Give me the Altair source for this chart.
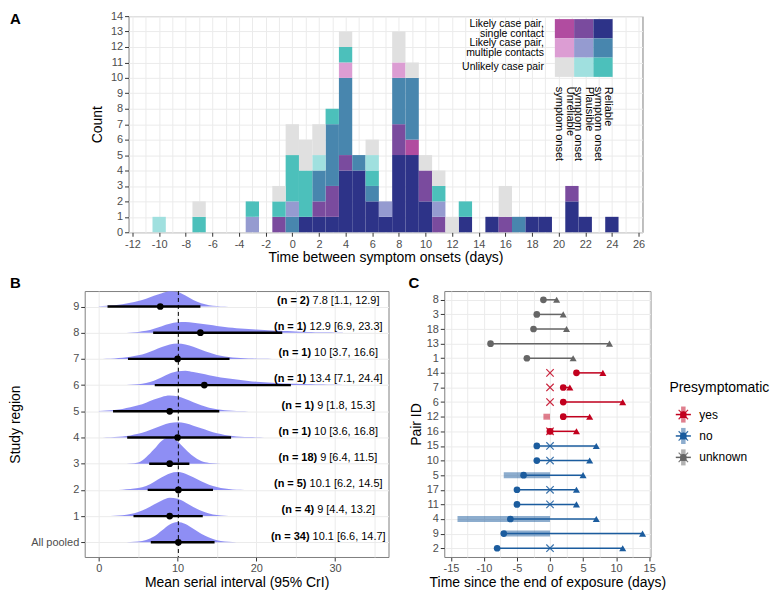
import altair as alt
import pandas as pd

FONT = "Liberation Sans"
LABEL_GREY = "#4d4d4d"
GRID = "#ebebeb"

# ---------------- Panel A: serial interval histogram ----------------
day_values = list(range(-10, 25))
single_reliable = {1: 1, 2: 1, 3: 1, 4: 4, 5: 4, 6: 2, 7: 1, 8: 5, 9: 5, 10: 2, 13: 1, 15: 1,
                   18: 1, 19: 1, 21: 2, 22: 1, 24: 1}
single_plausible = {-1: 1, 2: 1, 3: 2, 4: 1, 8: 2, 10: 2, 11: 1, 16: 1, 21: 1}
single_unreliable = {9: 1}
multi_reliable = {0: 1, 2: 2, 3: 4, 4: 5, 5: 1, 6: 1, 8: 3, 9: 4, 17: 1}
multi_plausible = {-3: 1, 0: 1, 7: 1, 11: 1}
multi_unreliable = {4: 1, 8: 1}
unlikely_reliable = {-7: 1, -3: 1, -1: 1, 0: 3, 1: 3, 3: 1, 4: 1, 6: 1, 11: 1, 13: 1}
unlikely_plausible = {-10: 1, 2: 1, 6: 1}
unlikely_unreliable = {-7: 1, -1: 1, 0: 2, 1: 2, 2: 2, 4: 1, 6: 1, 8: 2, 9: 1, 10: 1, 11: 1,
                       12: 1, 16: 2}

cat_names = ["single_reliable", "single_plausible", "single_unreliable",
             "multi_reliable", "multi_plausible", "multi_unreliable",
             "unlikely_reliable", "unlikely_plausible", "unlikely_unreliable"]
cat_counts = [single_reliable, single_plausible, single_unreliable,
              multi_reliable, multi_plausible, multi_unreliable,
              unlikely_reliable, unlikely_plausible, unlikely_unreliable]
cat_colors = ["#2d3388", "#7a4b9e", "#b14ca0",
              "#4886ae", "#959bd0", "#dc9dd3",
              "#4cc0bb", "#a0e0df", "#e0e0e0"]

leg_rows = ["Likely case pair,\nsingle contact", "Likely case pair,\nmultiple contacts",
            "Unlikely case pair"]
leg_cols = ["Unreliable\nsymptom onset", "Plausible\nsymptom onset", "Reliable\nsymptom onset"]
leg_prefix = ["single", "multi", "unlikely"]
leg_suffix = ["unreliable", "plausible", "reliable"]

rowsA = []
for order, (name, d) in enumerate(zip(cat_names, cat_counts)):
    for day in day_values:
        c = d.get(day, 0)
        if c:
            rowsA.append({"day": day, "cat": name, "order": order, "count": c})
dfA = pd.DataFrame(rowsA)

leg_records = []
for r, rl in enumerate(leg_rows):
    for c, cl in enumerate(leg_cols):
        leg_records.append({"row": rl, "col": cl, "cat": f"{leg_prefix[r]}_{leg_suffix[c]}"})
dfLeg = pd.DataFrame(leg_records)

A_W, A_H = 516, 217
A_XDOM = [-12.3, 26.3]

colorA = alt.Color("cat:N", scale=alt.Scale(domain=cat_names, range=cat_colors), legend=None)

bars = alt.Chart(dfA).transform_stack(
    stack="count", groupby=["day"], as_=["y0", "y1"],
    sort=[alt.SortField("order", order="ascending")]
).transform_calculate(
    x0="datum.day - 0.5", x1="datum.day + 0.5"
).mark_rect().encode(
    x=alt.X("x0:Q", scale=alt.Scale(domain=A_XDOM, nice=False, zero=False),
            axis=alt.Axis(values=list(range(-12, 27)),
                          labelExpr="datum.value % 2 === 0 ? '' + datum.value : ''",
                          tickOpacity={"condition": {"test": "datum.value % 2 !== 0", "value": 0}, "value": 1},
                          title="Time between symptom onsets (days)", titlePadding=1)),
    x2="x1:Q",
    y=alt.Y("y0:Q", scale=alt.Scale(domain=[0, 14], nice=False),
            axis=alt.Axis(values=list(range(0, 15)), title="Count", titlePadding=6)),
    y2="y1:Q",
    color=colorA,
)

legX = alt.X("col:N", scale=alt.Scale(type="band", domain=leg_cols, range=[428, 486],
                                      paddingInner=0, paddingOuter=0), axis=None)
legY = alt.Y("row:N", scale=alt.Scale(type="band", domain=leg_rows, range=[3, 61],
                                      paddingInner=0, paddingOuter=0), axis=None)

leg_tiles = alt.Chart(dfLeg).mark_rect().encode(x=legX, y=legY, color=colorA)
dfRowText = pd.DataFrame({"row": leg_rows})
leg_rowtext2 = alt.Chart(dfRowText).transform_filter(
    "indexof(datum.row, '\\n') >= 0"
).mark_text(
    align="right", baseline="middle", lineBreak="\n", fontSize=10.5, lineHeight=10,
    font=FONT, color="black", dy=-5
).encode(x=alt.value(417), y=legY, text="row:N")
leg_rowtext1 = alt.Chart(dfRowText).transform_filter(
    "indexof(datum.row, '\\n') < 0"
).mark_text(
    align="right", baseline="middle", fontSize=10.5, font=FONT, color="black"
).encode(x=alt.value(417), y=legY, text="row:N")
leg_coltext = alt.Chart(pd.DataFrame({"col": leg_cols})).mark_text(
    align="left", baseline="middle", lineBreak="\n", fontSize=11, lineHeight=11,
    angle=90, font=FONT, color="black", dy=-5.5
).encode(x=legX, y=alt.value(71), text="col:N")

chartA = alt.layer(
    bars, alt.layer(leg_tiles, leg_rowtext2, leg_rowtext1, leg_coltext)
).resolve_scale(x="independent", y="independent").properties(width=A_W, height=A_H)

# small blank cell left of panel A that carries the "A" tag and sets A's horizontal offset
spacerA = alt.Chart(pd.DataFrame({"t": ["A"]})).mark_text(
    align="left", baseline="middle", fontSize=15, fontWeight="bold", font=FONT, color="black"
).encode(x=alt.value(-75), y=alt.value(3), text="t:N").properties(
    width=1, height=1, view=alt.ViewBackground(stroke="transparent"))

# ---------------- Panel B: mean serial interval by region ----------------
region_labels = ["All pooled", "1", "2", "3", "4", "5", "6", "7", "8", "9"]
region_n = [34, 4, 5, 18, 1, 1, 1, 1, 1, 2]
region_mean = [10.1, 9, 10.1, 9, 10, 9, 13.4, 10, 12.9, 7.8]
region_lo = [6.6, 4.4, 6.2, 6.4, 3.6, 1.8, 7.1, 3.7, 6.9, 1.1]
region_hi = [14.7, 13.2, 14.5, 11.5, 16.8, 15.3, 24.4, 16.6, 23.3, 12.9]

dens_x = list(range(0, 32))
dens_pooled = [0, 0, 0, 0, 0.01, 0.03, 0.09, 0.22, 0.45, 0.68, 0.78, 0.7, 0.52, 0.33, 0.18, 0.08, 0.03, 0.01]
dens_r1 = [0, 0, 0.01, 0.03, 0.08, 0.16, 0.28, 0.44, 0.6, 0.7, 0.66, 0.52, 0.35, 0.2, 0.1, 0.04, 0.015, 0.005]
dens_r2 = [0, 0, 0, 0.01, 0.03, 0.07, 0.15, 0.3, 0.48, 0.63, 0.68, 0.62, 0.48, 0.33, 0.2, 0.11, 0.05, 0.02, 0.01]
dens_r3 = [0, 0, 0, 0, 0.01, 0.05, 0.25, 0.55, 0.88, 1.0, 0.85, 0.55, 0.28, 0.1, 0.03, 0.01]
dens_r4 = [0, 0.01, 0.02, 0.04, 0.08, 0.14, 0.23, 0.34, 0.46, 0.55, 0.58, 0.54, 0.45, 0.35, 0.25, 0.16, 0.1,
           0.06, 0.03, 0.015, 0.01, 0.005]
dens_r5 = [0.01, 0.03, 0.05, 0.09, 0.15, 0.23, 0.33, 0.45, 0.55, 0.6, 0.57, 0.47, 0.35, 0.23, 0.14, 0.08,
           0.04, 0.02, 0.01, 0.005]
dens_r6 = [0, 0, 0, 0, 0.01, 0.03, 0.08, 0.17, 0.3, 0.44, 0.53, 0.55, 0.5, 0.44, 0.38, 0.32, 0.27, 0.23,
           0.19, 0.16, 0.13, 0.11, 0.09, 0.07, 0.06, 0.05, 0.04, 0.03, 0.02, 0.015, 0.01, 0.005]
dens_r7 = [0, 0.01, 0.02, 0.04, 0.08, 0.14, 0.22, 0.33, 0.45, 0.55, 0.59, 0.55, 0.46, 0.35, 0.24, 0.15,
           0.09, 0.05, 0.03, 0.015, 0.01, 0.005]
dens_r8 = [0, 0, 0, 0, 0.01, 0.03, 0.07, 0.15, 0.25, 0.34, 0.4, 0.41, 0.38, 0.34, 0.3, 0.26, 0.22, 0.19,
           0.16, 0.14, 0.12, 0.1, 0.08, 0.07, 0.06, 0.05, 0.04, 0.03, 0.02, 0.015, 0.01, 0.005]
dens_r9 = [0.01, 0.03, 0.05, 0.09, 0.14, 0.21, 0.3, 0.41, 0.51, 0.58, 0.55, 0.42, 0.25, 0.12, 0.05, 0.02, 0.01]
densities = [dens_pooled, dens_r1, dens_r2, dens_r3, dens_r4, dens_r5, dens_r6, dens_r7, dens_r8, dens_r9]

B_W, B_H = 305, 267
B_XDOM = [-1.8, 36.8]
B_YDOM = [-0.56, 9.59]
TEXT_CENTER = 29.15
TEXT_SIZE = 11

dens_rows = []
for r, heights in enumerate(densities):
    for i, x in enumerate(dens_x):
        h = heights[i] if i < len(heights) else 0
        dens_rows.append({"row": r, "x": x, "y0": r, "y1": r + h})
dfDens = pd.DataFrame(dens_rows)

NORMAL_W = {" ": 278, ".": 278, ",": 278, "[": 278, "]": 278, "(": 333, ")": 333, "n": 556, "=": 584}
BOLD_W = {" ": 278, ".": 278, "(": 333, ")": 333, "n": 611, "=": 584}


def text_width(s, table):
    return sum(table.get(ch, 556) for ch in s) * TEXT_SIZE / 1000.0


def fmt(v):
    return f"{v:g}"


ppu = B_W / (B_XDOM[1] - B_XDOM[0])
sum_rows = []
for r in range(len(region_labels)):
    bold = f"(n = {region_n[r]})"
    normal = f"{fmt(region_mean[r])} [{fmt(region_lo[r])}, {fmt(region_hi[r])}]"
    wb = text_width(bold, BOLD_W)
    wn = text_width(normal, NORMAL_W)
    sp = 278 * TEXT_SIZE / 1000.0
    total = wb + sp + wn
    left_px = -total / 2
    sum_rows.append({
        "row": r, "mean": region_mean[r], "lo": region_lo[r], "hi": region_hi[r],
        "bold": bold, "normal": normal,
        "tx_bold": TEXT_CENTER + (left_px + wb) / ppu,
        "tx_normal": TEXT_CENTER + (left_px + wb + sp) / ppu,
        "ty": r + 0.22,
    })
dfB = pd.DataFrame(sum_rows)

axisBx = alt.Axis(values=[0, 5, 10, 15, 20, 25, 30, 35],
                  labelExpr="datum.value % 10 === 0 ? '' + datum.value : ''",
                  tickOpacity={"condition": {"test": "datum.value % 10 !== 0", "value": 0}, "value": 1},
                  title="Mean serial interval (95% CrI)", titlePadding=2)
axisBy = alt.Axis(values=list(range(0, 10)),
                  labelExpr="datum.value === 0 ? 'All pooled' : '' + datum.value",
                  title="Study region", titlePadding=8)
scaleBx = alt.Scale(domain=B_XDOM, nice=False, zero=False)
scaleBy = alt.Scale(domain=B_YDOM, nice=False, zero=False)


def bx(field):
    return alt.X(field, type="quantitative", scale=scaleBx, axis=axisBx)


def by(field):
    return alt.Y(field, type="quantitative", scale=scaleBy, axis=axisBy)


dens_area = alt.Chart(dfDens).mark_area(color="#8888f3", interpolate="monotone", opacity=0.95).encode(
    x=bx("x"), y=by("y0"), y2="y1:Q", detail="row:N")
pooled_line = alt.Chart(pd.DataFrame({"m": [region_mean[0]]})).mark_rule(
    color="black", strokeDash=[4, 3], strokeWidth=1).encode(x=bx("m"))
ci_rule = alt.Chart(dfB).mark_rule(color="black", strokeWidth=2.4).encode(
    x=bx("lo"), x2="hi:Q", y=by("row"))
mean_pt = alt.Chart(dfB).mark_point(shape="circle", filled=True, color="black", size=45, opacity=1).encode(
    x=bx("mean"), y=by("row"))
txt_bold = alt.Chart(dfB).mark_text(align="right", baseline="middle", fontSize=TEXT_SIZE,
                                    fontWeight="bold", font=FONT, color="black").encode(
    x=bx("tx_bold"), y=by("ty"), text="bold:N")
txt_norm = alt.Chart(dfB).mark_text(align="left", baseline="middle", fontSize=TEXT_SIZE,
                                    font=FONT, color="black").encode(
    x=bx("tx_normal"), y=by("ty"), text="normal:N")
labelB = alt.Chart(pd.DataFrame({"t": ["B"]})).mark_text(
    align="left", baseline="middle", fontSize=15, fontWeight="bold", font=FONT, color="black"
).encode(x=alt.value(-75), y=alt.value(-8), text="t:N")

chartB = alt.layer(dens_area, pooled_line, ci_rule, mean_pt, txt_bold, txt_norm, labelB).properties(
    width=B_W, height=B_H)

# ---------------- Panel C: exposure and onset timeline ----------------
pair_ids = ["8", "3", "18", "13", "1", "14", "7", "6", "12", "16", "15", "10", "5", "17", "11", "4", "9", "2"]
presymptomatic = ["unknown"] * 5 + ["yes"] * 5 + ["no"] * 8
infector_onset = [-1, -2, -2.5, -9, -3.5, 4, 2, 2, 2, 0, -2, -2, -4, -5, -5, -6, -7, -8]
infectee_onset = [1, 2, 2.5, 9, 3.5, 8, 3, 11, 6, 4, 7, 6, 5, 4, 4, 7, 14, 11]
cross_pairs = ["14", "7", "6", "16", "15", "10", "17", "11", "2"]
window_pairs = ["12", "16", "5", "4", "9"]
window_start = [-1, -0.5, -7, -14, -7]
window_end = [0, 0.5, 0, 0, 0]

status_of = dict(zip(pair_ids, presymptomatic))
dfC = pd.DataFrame({"pair": pair_ids, "status": presymptomatic,
                    "a": infector_onset, "b": infectee_onset})
dfCross = pd.DataFrame({"pair": cross_pairs, "status": [status_of[p] for p in cross_pairs],
                        "x": [0] * len(cross_pairs)})
dfWin = pd.DataFrame({"pair": window_pairs, "status": [status_of[p] for p in window_pairs],
                      "s": window_start, "e": window_end})

C_W, C_H = 207, 267
C_XDOM = [-16.0, 15.2]
scaleCx = alt.Scale(domain=C_XDOM, nice=False, zero=False)
axisCx = alt.Axis(values=[v / 2 for v in range(-30, 31, 5)],
                  labelExpr="datum.value % 5 === 0 ? '' + datum.value : ''",
                  tickOpacity={"condition": {"test": "datum.value % 5 !== 0", "value": 0}, "value": 1},
                  title="Time since the end of exposure (days)", titlePadding=2)
scaleCy = alt.Scale(type="point", domain=pair_ids, padding=0.6)
axisCy = alt.Axis(title="Pair ID", grid=True, titlePadding=3)
status_dom = ["yes", "no", "unknown"]
status_col = ["#c2001e", "#1b5c9e", "#666666"]
scaleCc = alt.Scale(domain=status_dom, range=status_col)


def cx(field):
    return alt.X(field, type="quantitative", scale=scaleCx, axis=axisCx)


cy = alt.Y("pair:N", scale=scaleCy, axis=axisCy, sort=pair_ids)
c_col = alt.Color("status:N", scale=scaleCc, legend=None)

win = alt.Chart(dfWin).mark_rule(strokeWidth=6, opacity=0.5, strokeCap="butt").encode(
    x=cx("s"), x2="e:Q", y=cy, color=c_col)
seg = alt.Chart(dfC).mark_rule(strokeWidth=1.5).encode(x=cx("a"), x2="b:Q", y=cy, color=c_col)
CROSS = "M-1,-1L1,1M1,-1L-1,1"
crosses = alt.Chart(dfCross).mark_point(shape=CROSS, filled=False, size=55,
                                        strokeWidth=1.2, opacity=0.85).encode(
    x=cx("x"), y=cy, color=c_col)
circ = alt.Chart(dfC).mark_point(shape="circle", filled=True, size=45, opacity=1).encode(
    x=cx("a"), y=cy, color=c_col)
tri = alt.Chart(dfC).mark_point(shape="triangle-up", filled=True, size=50, opacity=1).encode(
    x=cx("b"), y=cy, color=c_col)
labelC = alt.Chart(pd.DataFrame({"t": ["C"]})).mark_text(
    align="left", baseline="middle", fontSize=15, fontWeight="bold", font=FONT, color="black"
).encode(x=alt.value(-36), y=alt.value(-8), text="t:N")

# hand-built legend (key glyph = all geoms overlaid, like ggplot)
dfKey = pd.DataFrame({"status": status_dom})
keyY = alt.Y("status:N", scale=alt.Scale(type="point", domain=status_dom, range=[124, 167], padding=0),
             axis=None)
KEY_X = 240
key_bar = alt.Chart(dfKey).mark_point(shape="M-0.28,-1L0.28,-1L0.28,1L-0.28,1Z", filled=True,
                                      size=260, opacity=0.5).encode(
    x=alt.value(KEY_X), y=keyY, color=c_col)
key_line = alt.Chart(dfKey).mark_point(shape="M-1,0L1,0", filled=False, size=230, strokeWidth=1.5,
                                       opacity=1).encode(x=alt.value(KEY_X), y=keyY, color=c_col)
key_cross = alt.Chart(dfKey).mark_point(shape=CROSS, filled=False, size=90, strokeWidth=1.2,
                                        opacity=0.85).encode(x=alt.value(KEY_X), y=keyY, color=c_col)
key_circ = alt.Chart(dfKey).mark_point(shape="circle", filled=True, size=45, opacity=1).encode(
    x=alt.value(KEY_X), y=keyY, color=c_col)
key_tri = alt.Chart(dfKey).mark_point(shape="triangle-up", filled=True, size=60, opacity=1).encode(
    x=alt.value(KEY_X), y=keyY, color=c_col)
key_lab = alt.Chart(dfKey).mark_text(align="left", baseline="middle", fontSize=12, font=FONT,
                                     color="black").encode(x=alt.value(256), y=keyY, text="status:N")
key_title = alt.Chart(pd.DataFrame({"t": ["Presymptomatic"]})).mark_text(
    align="left", baseline="middle", fontSize=14, font=FONT, color="black"
).encode(x=alt.value(226), y=alt.value(97), text="t:N")

chartC = alt.layer(
    alt.layer(win, seg, crosses, circ, tri, labelC),
    alt.layer(key_bar, key_line, key_cross, key_circ, key_tri, key_lab, key_title)
).resolve_scale(y="independent").properties(width=C_W, height=C_H)

# ---------------- Assemble ----------------
top = alt.hconcat(spacerA, chartA, spacing=3).resolve_scale(color="independent")
bottom = alt.hconcat(chartB, chartC, spacing=18).resolve_scale(color="independent")
chart = alt.vconcat(top, bottom, spacing=10).resolve_scale(
    color="independent"
).properties(padding=0).configure(font=FONT).configure_axis(
    labelFont=FONT, titleFont=FONT, labelFontSize=11, titleFontSize=14, titleFontWeight="normal",
    labelColor=LABEL_GREY, titleColor="black", tickColor="#333333", tickSize=4, labelPadding=2,
    titlePadding=4, domain=False, gridColor=GRID, grid=True
).configure_view(stroke="#7f7f7f", strokeWidth=1)

chart.save("out.html", embed_options={"renderer": "svg", "actions": False})
